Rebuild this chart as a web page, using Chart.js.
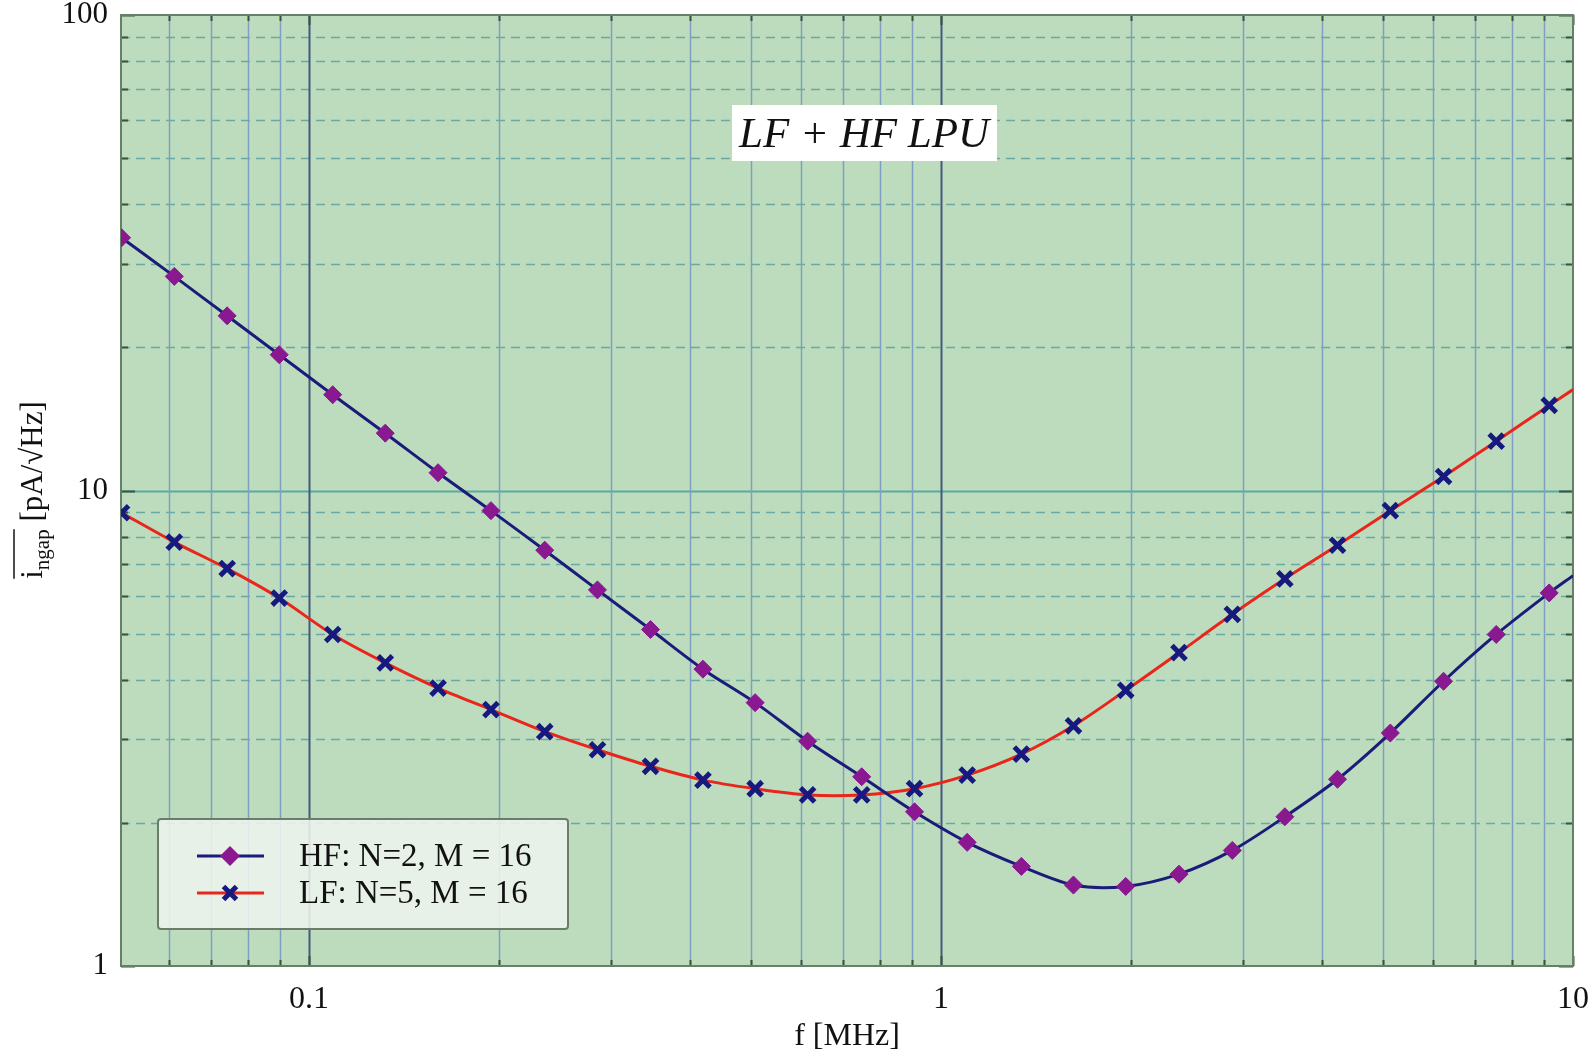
<!DOCTYPE html>
<html>
<head>
<meta charset="utf-8">
<script src="https://cdn.jsdelivr.net/npm/chart.js@4/dist/chart.umd.min.js"></script>
<style>
  body { margin: 0; background: #fff; }
  canvas { display: block; }
</style>
</head>
<body>
<canvas id="noiseChart" width="1595" height="1059"></canvas>
<script>
// frequency points [MHz] (last one is the curve end at the right edge, no marker)
const freq = [0.0505, 0.0612, 0.0742, 0.0897, 0.109, 0.132, 0.160, 0.194, 0.236, 0.286,
  0.347, 0.420, 0.508, 0.615, 0.749, 0.908, 1.10, 1.34, 1.62, 1.96,
  2.38, 2.89, 3.50, 4.24, 5.14, 6.24, 7.56, 9.17, 10];

// HF: N=2, M = 16
const hfNoise = [34.0, 28.2, 23.3, 19.3, 15.9, 13.2, 10.9, 9.07, 7.49, 6.18,
  5.10, 4.21, 3.58, 2.97, 2.50, 2.11, 1.82, 1.62, 1.48, 1.47,
  1.56, 1.75, 2.06, 2.47, 3.09, 3.97, 4.98, 6.09, 6.62];

// LF: N=5, M = 16
const lfNoise = [8.98, 7.79, 6.85, 5.94, 4.98, 4.34, 3.84, 3.46, 3.11, 2.85,
  2.63, 2.46, 2.36, 2.29, 2.29, 2.36, 2.52, 2.79, 3.20, 3.80,
  4.56, 5.49, 6.52, 7.67, 9.07, 10.7, 12.7, 15.1, 16.3];

const seriesLabels = ['HF: N=2, M = 16', 'LF: N=5, M = 16'];

// grid / tick values
const xTickValues = [0.06, 0.07, 0.08, 0.09, 0.1, 0.2, 0.3, 0.4, 0.5, 0.6, 0.7, 0.8, 0.9,
  1, 2, 3, 4, 5, 6, 7, 8, 9, 10];
const xLabelled = [0.1, 1, 10];
const yTickValues = [1, 2, 3, 4, 5, 6, 7, 8, 9, 10, 20, 30, 40, 50, 60, 70, 80, 90, 100];
const yLabelled = [1, 10, 100];

const SERIF = '"Times New Roman", "Liberation Serif", Times, serif';
const HF_LINE = '#1b1b7a', HF_MARK = '#8a1890';
const LF_LINE = '#e8261c', LF_MARK = '#17197e';

// marker drawing used by the legend
function drawDiamond(ctx, x, y, r) {
  ctx.beginPath();
  ctx.moveTo(x, y - r); ctx.lineTo(x + r, y); ctx.lineTo(x, y + r); ctx.lineTo(x - r, y);
  ctx.closePath(); ctx.fill();
}
function drawCross(ctx, x, y, r) {
  ctx.beginPath();
  ctx.moveTo(x - r, y - r); ctx.lineTo(x + r, y + r);
  ctx.moveTo(x + r, y - r); ctx.lineTo(x - r, y + r);
  ctx.stroke();
}

const plotBackground = {
  id: 'plotBackground',
  beforeDraw(chart) {
    const { ctx, chartArea: a, scales: { x, y } } = chart;
    ctx.save();
    ctx.fillStyle = '#fff';
    ctx.fillRect(0, 0, chart.width, chart.height);
    ctx.fillStyle = '#bddcbd';
    ctx.fillRect(a.left, a.top, a.right - a.left, a.bottom - a.top);

    // horizontal lines
    yTickValues.forEach(v => {
      if (v === 1 || v === 100) return;
      const py = Math.round(y.getPixelForValue(v)) + 0.5;
      ctx.beginPath();
      if (v === 10) {
        ctx.setLineDash([]); ctx.strokeStyle = '#5aaaa2'; ctx.lineWidth = 2;
      } else {
        ctx.setLineDash([9, 6]); ctx.strokeStyle = '#6aa9a3'; ctx.lineWidth = 1.5;
      }
      ctx.moveTo(a.left, py); ctx.lineTo(a.right, py); ctx.stroke();
    });
    ctx.setLineDash([]);

    // vertical lines
    xTickValues.forEach(v => {
      if (v === 10) return;
      const px = Math.round(x.getPixelForValue(v)) + 0.5;
      ctx.beginPath();
      if (v === 0.1 || v === 1) {
        ctx.strokeStyle = '#44587e'; ctx.lineWidth = 2;
      } else {
        ctx.strokeStyle = '#7f9ec4'; ctx.lineWidth = 1.5;
      }
      ctx.moveTo(px, a.top); ctx.lineTo(px, a.bottom); ctx.stroke();
    });

    // small inner tick marks
    ctx.strokeStyle = '#3b553b'; ctx.lineWidth = 2;
    xTickValues.forEach(v => {
      const px = Math.round(x.getPixelForValue(v)) + 0.5;
      const len = xLabelled.includes(v) ? 10 : 6;
      ctx.beginPath();
      ctx.moveTo(px, a.bottom); ctx.lineTo(px, a.bottom - len);
      ctx.moveTo(px, a.top); ctx.lineTo(px, a.top + len);
      ctx.stroke();
    });
    yTickValues.forEach(v => {
      const py = Math.round(y.getPixelForValue(v)) + 0.5;
      const len = yLabelled.includes(v) ? 14 : 7;
      ctx.beginPath();
      ctx.moveTo(a.left, py); ctx.lineTo(a.left + len, py);
      ctx.moveTo(a.right, py); ctx.lineTo(a.right - len, py);
      ctx.stroke();
    });

    // frame
    ctx.strokeStyle = '#667f66'; ctx.lineWidth = 2;
    ctx.strokeRect(a.left, a.top, a.right - a.left, a.bottom - a.top);
    ctx.restore();
  },
  afterDraw(chart) {
    const { ctx } = chart;
    ctx.save();

    // inset title
    ctx.fillStyle = '#fff';
    ctx.fillRect(732, 105, 265, 56);
    ctx.fillStyle = '#111';
    ctx.font = 'italic 43px ' + SERIF;
    ctx.textAlign = 'center'; ctx.textBaseline = 'middle';
    ctx.fillText('LF + HF LPU', 864, 136);

    // legend
    ctx.fillStyle = 'rgba(238,244,238,0.88)';
    ctx.strokeStyle = '#6a7d6a'; ctx.lineWidth = 2;
    ctx.beginPath();
    ctx.roundRect(158, 819, 410, 110, 3);
    ctx.fill(); ctx.stroke();
    const rows = [856, 893];
    ctx.lineWidth = 3;
    ctx.strokeStyle = HF_LINE;
    ctx.beginPath(); ctx.moveTo(197, rows[0]); ctx.lineTo(264, rows[0]); ctx.stroke();
    ctx.fillStyle = HF_MARK; drawDiamond(ctx, 230, rows[0], 10);
    ctx.strokeStyle = LF_LINE;
    ctx.beginPath(); ctx.moveTo(197, rows[1]); ctx.lineTo(264, rows[1]); ctx.stroke();
    ctx.strokeStyle = LF_MARK; ctx.lineWidth = 5; drawCross(ctx, 230, rows[1], 6.5);
    ctx.fillStyle = '#111';
    ctx.font = '33px ' + SERIF;
    ctx.textAlign = 'left'; ctx.textBaseline = 'middle';
    ctx.fillText(seriesLabels[0], 299, rows[0] + 1);
    ctx.fillText(seriesLabels[1], 299, rows[1] + 1);

    // y axis title: overline(i_ngap) [pA/√Hz]
    ctx.translate(42, 490);
    ctx.rotate(-Math.PI / 2);
    ctx.textAlign = 'left'; ctx.textBaseline = 'alphabetic';
    const mainFont = '31px ' + SERIF, subFont = '21px ' + SERIF;
    ctx.font = mainFont; const wI = ctx.measureText('i').width;
    const wRest = ctx.measureText(' [pA/√Hz]').width;
    ctx.font = subFont; const wSub = ctx.measureText('ngap').width;
    const sx = -(wI + wSub + wRest) / 2;
    ctx.font = mainFont; ctx.fillText('i', sx, 0);
    ctx.font = subFont; ctx.fillText('ngap', sx + wI, 7);
    ctx.lineWidth = 1.5; ctx.strokeStyle = '#111';
    ctx.beginPath(); ctx.moveTo(sx, -28); ctx.lineTo(sx + wI + wSub, -28); ctx.stroke();
    ctx.font = mainFont; ctx.fillText(' [pA/√Hz]', sx + wI + wSub, 0);
    ctx.restore();
  }
};

const points = vals => freq.map((f, i) => ({ x: f, y: vals[i] }));
const lastIdx = freq.length - 1;

new Chart(document.getElementById('noiseChart'), {
  type: 'line',
  data: {
    datasets: [
      {
        label: seriesLabels[0],
        data: points(hfNoise),
        borderColor: HF_LINE,
        borderWidth: 3,
        tension: 0.3,
        pointStyle: 'rectRot',
        pointRadius: c => c.dataIndex === lastIdx ? 0 : 9,
        pointBackgroundColor: HF_MARK,
        pointBorderColor: HF_MARK,
        pointBorderWidth: 1
      },
      {
        label: seriesLabels[1],
        data: points(lfNoise),
        borderColor: LF_LINE,
        borderWidth: 3,
        tension: 0.3,
        pointStyle: 'crossRot',
        pointRadius: c => c.dataIndex === lastIdx ? 0 : 10,
        pointBorderColor: LF_MARK,
        pointBackgroundColor: LF_MARK,
        pointBorderWidth: 5
      }
    ]
  },
  options: {
    responsive: false,
    animation: false,
    layout: { padding: { top: 13, right: 22, left: 0, bottom: 0 } },
    plugins: { legend: { display: false }, tooltip: { enabled: false } },
    scales: {
      x: {
        type: 'logarithmic',
        min: 0.0504,
        max: 10,
        grid: { display: false },
        border: { display: false },
        afterBuildTicks: s => { s.ticks = xTickValues.map(v => ({ value: v })); },
        afterFit: s => { s.height = 93; s.paddingLeft = 0; s.paddingRight = 0; },
        ticks: {
          autoSkip: false, maxRotation: 0, padding: 6, color: '#111',
          font: { family: SERIF, size: 32 },
          callback: v => xLabelled.includes(v) ? String(v) : ''
        },
        title: {
          display: true, text: 'f [MHz]', color: '#111',
          font: { family: SERIF, size: 32 }, padding: { top: 2, bottom: 3 }
        }
      },
      y: {
        type: 'logarithmic',
        min: 1,
        max: 100,
        grid: { display: false },
        border: { display: false },
        afterBuildTicks: s => { s.ticks = yTickValues.map(v => ({ value: v })); },
        afterFit: s => { s.width = 121; s.paddingTop = 0; s.paddingBottom = 0; },
        ticks: {
          autoSkip: false, padding: 5, color: '#111',
          font: { family: SERIF, size: 31 },
          callback: v => yLabelled.includes(v) ? String(v) : ''
        }
      }
    }
  },
  plugins: [plotBackground]
});
</script>
</body>
</html>
